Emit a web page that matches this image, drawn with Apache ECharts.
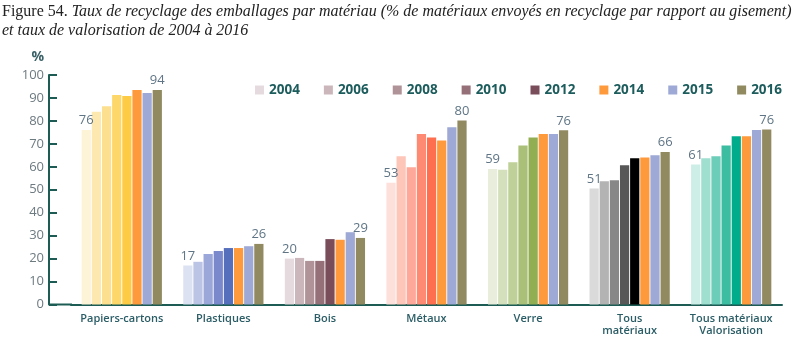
<!DOCTYPE html>
<html>
<head>
<meta charset="utf-8">
<script src="https://cdn.jsdelivr.net/npm/echarts@6/dist/echarts.min.js"></script>
<style>html,body{margin:0;padding:0;background:#fff}#c{width:802px;height:339px}</style>
</head>
<body>
<div id="c"></div>
<script>
const years = ['2004','2006','2008','2010','2012','2014','2015','2016'];
const categories = ['Papiers-cartons','Plastiques','Bois','Métaux','Verre','Tous\nmatériaux','Tous matériaux\nValorisation'];
const yTicks = [0,10,20,30,40,50,60,70,80,90,100];

const v2004 = [76, 17, 20, 53, 59, 50.5, 61];
const v2006 = [84, 18.6, 20.3, 64.6, 58.7, 53.7, 63.7];
const v2008 = [86.4, 22, 19, 59.8, 62, 54.1, 64.6];
const v2010 = [91.3, 23.3, 19, 74.3, 69.3, 60.7, 69.3];
const v2012 = [90.9, 24.6, 28.5, 72.8, 72.8, 63.7, 73.3];
const v2014 = [93.5, 24.6, 28.2, 71.5, 74.3, 64.1, 73.3];
const v2015 = [92.2, 25.4, 31.5, 77.2, 74.3, 65, 76];
const v2016 = [93.5, 26.4, 29, 80.2, 75.9, 66.4, 76.2];
const values = [v2004, v2006, v2008, v2010, v2012, v2014, v2015, v2016];

// colours per category for 2004..2012, then common colours
const palettes = [
  ['#fdf3d6','#fde9b0','#fde08f','#fed76a','#fecc44'],
  ['#dde2f2','#bcc4e6','#9ba6d9','#7a89cb','#566fbd'],
  ['#e5dadd','#cab6bb','#b09399','#967079','#7a4d5b'],
  ['#fee0da','#fec5b9','#fea899','#fe8a74','#fe6f50'],
  ['#e9eedc','#d4e0bb','#bfd199','#aabf78','#91ae52'],
  ['#dadada','#b3b3b3','#878787','#575757','#000000'],
  ['#cdeee6','#9fdfd0','#6ccdb9','#3cbca1','#00ac8c']
];
const commonColors = ['#fe9a3c','#9ea9d6','#918a60'];
const legendColors = palettes[2].concat(commonColors);

const axisColor = '#1d5c55';
const sans = 'Open Sans';

const series = years.map((y, si) => ({
  name: y,
  type: 'bar',
  barGap: '10%',
  barCategoryGap: '21%',
  itemStyle: { color: legendColors[si] },
  data: values[si].map((v, ci) => ({
    value: v,
    itemStyle: { color: si < 5 ? palettes[ci][si] : commonColors[si - 5] }
  })),
  label: {
    show: si === 0 || si === years.length - 1,
    position: 'top',
    distance: 3,
    fontFamily: sans,
    fontSize: 13,
    color: '#5f7585',
    formatter: p => String(Math.round(p.value))
  }
}));

const chart = echarts.init(document.getElementById('c'), null, {renderer: 'canvas'});
chart.setOption({
  animation: false,
  grid: { left: 71, right: 20, top: 75, bottom: 34.5 },
  legend: {
    data: years,
    left: 250, top: 78,
    itemWidth: 9, itemHeight: 9, itemGap: 24,
    icon: 'rect',
    textStyle: { fontFamily: sans, fontSize: 13.5, fontWeight: 'bold', color: '#1d5c5c' }
  },
  graphic: [
    {
      type: 'text', left: 2, top: 3,
      scaleX: 0.94,
      style: {
        text: '{a|Figure 54. }{b|Taux de recyclage des emballages par matériau (% de matériaux envoyés en recyclage par rapport au gisement)}\n{b|et taux de valorisation de 2004 à 2016}',
        rich: {
          a: { fontFamily: 'Liberation Serif', fontSize: 17, fill: '#222', lineHeight: 19 },
          b: { fontFamily: 'Liberation Serif', fontSize: 17, fontStyle: 'italic', fill: '#222', lineHeight: 19 }
        }
      }
    },
    {
      type: 'line', z: 10,
      shape: { x1: 49, y1: 304.5, x2: 72, y2: 304.5 },
      style: { stroke: axisColor, lineWidth: 2 }
    }
  ],
  xAxis: {
    type: 'category',
    data: categories,
    axisLine: { lineStyle: { color: axisColor, width: 2 } },
    axisTick: { inside: true, length: 8, lineStyle: { color: axisColor, width: 2 } },
    axisLabel: { interval: 0, margin: 9, fontFamily: sans, fontSize: 11, fontWeight: 600, color: '#2b5d66', lineHeight: 11.5 }
  },
  yAxis: {
    type: 'value',
    min: 0, max: 100, interval: 10,
    offset: 22,
    name: '%',
    nameLocation: 'end',
    nameGap: 11,
    nameTextStyle: { fontFamily: sans, fontSize: 14, fontWeight: 'bold', color: '#3b6268', align: 'right', padding: [0, 5, 0, 0] },
    axisLine: { show: true, lineStyle: { color: axisColor, width: 2 } },
    axisTick: { show: true, inside: true, length: 8, lineStyle: { color: axisColor, width: 2 } },
    splitLine: { show: false },
    axisLabel: { margin: 5, fontFamily: sans, fontSize: 13, color: '#6d7a80',
      formatter: v => yTicks.includes(v) ? String(v) : '' }
  },
  series: series
});
</script>
</body>
</html>
